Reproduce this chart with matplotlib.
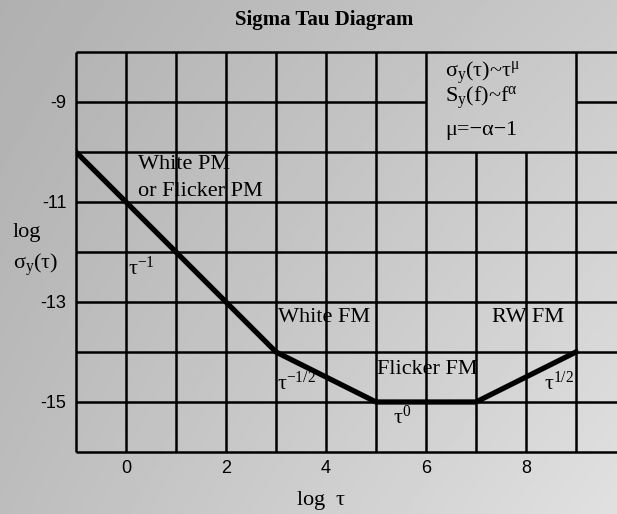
import numpy as np
import matplotlib
matplotlib.use('Agg')
import matplotlib.pyplot as plt

plt.rcParams['font.family'] = ['Liberation Serif', 'DejaVu Serif']
plt.rcParams['mathtext.fontset'] = 'custom'
plt.rcParams['mathtext.rm'] = 'Liberation Serif'
plt.rcParams['mathtext.it'] = 'Liberation Serif'
plt.rcParams['mathtext.bf'] = 'Liberation Serif:bold'
plt.rcParams['mathtext.default'] = 'rm'
plt.rcParams['axes.unicode_minus'] = False

# break points of the sigma-tau curve (log tau, log sigma)
log_tau = [-1, 3, 5, 7, 9]
log_sigma = [-10, -14, -15, -15, -14]

x_ticks = [0, 2, 4, 6, 8]
y_ticks = [-9, -11, -13, -15]

# noise type names and slope labels: text, x, y
region_text = ['White PM\nor Flicker PM', 'White FM', 'Flicker FM', 'RW FM']
region_x = [0.24, 3.04, 5.02, 7.32]
region_y = [-10.52, -13.32, -14.36, -13.32]

slope_text = [r'$\tau^{-1}$', r'$\tau^{-1/2}$', r'$\tau^{0}$', r'$\tau^{1/2}$']
slope_x = [0.04, 3.02, 5.34, 8.36]
slope_y = [-12.32, -14.62, -15.3, -14.62]

box_lines = [r'$\sigma_y(\tau)$~$\tau^{\mu}$', r'S$_y$(f)~f$^{\alpha}$', 'μ=−α−1']
box_y = [-8.42, -8.92, -9.56]

fig = plt.figure(figsize=(6.17, 5.14), dpi=100)

# grey shaded backdrop
bg = fig.add_axes([0, 0, 1, 1], zorder=-10)
u, v = np.meshgrid(np.linspace(0, 1, 300), np.linspace(0, 1, 300))
shade = 0.69 + 0.10 * u + 0.05 * v + 0.04 * u * v
bg.imshow(shade, cmap='gray', vmin=0, vmax=1, extent=[0, 1, 0, 1],
          origin='upper', aspect='auto', interpolation='bilinear')
bg.axis('off')

ax = fig.add_axes([76 / 617, 1 - 452 / 514, 1 - 76 / 617, 400 / 514])
ax.patch.set_alpha(0)
xmax = -1 + (617 - 76) / 50
ax.set_xlim(-1, xmax)
ax.set_ylim(-16, -8)
for s in ax.spines.values():
    s.set_visible(False)

lw = 1.8
# grid, leaving the formula box (x 6..9, y -10..-8) open
for yv in range(-16, -7):
    if yv == -9:
        ax.hlines(yv, -1, 6, color='black', lw=lw, clip_on=False)
        ax.hlines(yv, 9, xmax, color='black', lw=lw, clip_on=False)
    else:
        ax.hlines(yv, -1, xmax, color='black', lw=lw, clip_on=False)
for xv in range(-1, 10):
    top = -10 if xv in (7, 8) else -8
    ax.vlines(xv, -16, top, color='black', lw=lw, clip_on=False)

ax.plot(log_tau, log_sigma, color='black', lw=3.8, solid_joinstyle='miter', zorder=5)

for t, x, y in zip(region_text, region_x, region_y):
    ax.text(x, y, t, fontsize=16, ha='left', va='center', linespacing=1.55)
for t, x, y in zip(slope_text, slope_x, slope_y):
    ax.text(x, y, t, fontsize=16, ha='left', va='center')
for t, y in zip(box_lines, box_y):
    ax.text(6.38, y, t, fontsize=16, ha='left', va='center')

ax.set_xticks(x_ticks)
ax.set_yticks(y_ticks)
ax.tick_params(length=0)
ax.tick_params(axis='x', pad=6)
ax.tick_params(axis='y', pad=7)
for lab in ax.get_xticklabels() + ax.get_yticklabels():
    lab.set_fontfamily('Liberation Sans')
    lab.set_fontsize(13)

fig.text(0.525, 1 - 20 / 514, 'Sigma Tau Diagram', fontsize=15, fontweight='bold',
         ha='center', va='center')
fig.text(13 / 617, 1 - 233 / 514, 'log', fontsize=16, ha='left', va='center')
fig.text(13 / 617, 1 - 265 / 514, r'$\sigma_y(\tau)$', fontsize=16, ha='left', va='center')
fig.text(321 / 617, 1 - 500 / 514, r'log  $\tau$', fontsize=16, ha='center', va='center')

fig.savefig('out.png', dpi=100)
